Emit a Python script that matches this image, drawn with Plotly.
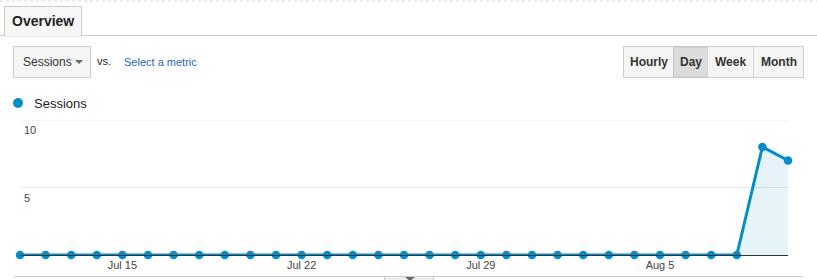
import datetime as dt
import plotly.graph_objects as go

# ---- data ----
start = dt.date(2014, 7, 11)
dates = [start + dt.timedelta(days=i) for i in range(31)]
sessions = [0] * 29 + [8, 7]
tick_dates = [dt.date(2014, 7, 15), dt.date(2014, 7, 22), dt.date(2014, 7, 29), dt.date(2014, 8, 5)]
tick_text = ["Jul 15", "Jul 22", "Jul 29", "Aug 5"]
y_ticks = [5, 10]
buttons = ["Hourly", "Day", "Week", "Month"]

W, H = 817, 280
BLUE = "#058dc7"
FONT = "Arial, Liberation Sans, sans-serif"

def px(x):
    return x / W

def py(y):
    return 1 - y / H

def label(text, x, y, size=12, color="#333", xanchor="center"):
    return dict(text=text, x=px(x), y=py(y), xref="paper", yref="paper", xanchor=xanchor,
                yanchor="middle", showarrow=False, font=dict(family=FONT, size=size, color=color))

fig = go.Figure()
fig.add_trace(go.Scatter(
    x=dates, y=sessions, mode="lines+markers",
    line=dict(color=BLUE, width=3),
    marker=dict(color=BLUE, size=8.5),
    fill="tozeroy", fillcolor="rgba(5,141,199,0.10)",
    cliponaxis=False, showlegend=False, hoverinfo="x+y",
))

shapes = []
annotations = []

# top dashed line
shapes.append(dict(type="line", xref="paper", yref="paper", x0=0, x1=1, y0=py(1), y1=py(1),
                   line=dict(color="#d8d8d8", width=1, dash="3px,3px")))
# tab baseline
shapes.append(dict(type="line", xref="paper", yref="paper", x0=0, x1=1, y0=py(35.5), y1=py(35.5),
                   line=dict(color="#cccccc", width=1)))
# tab
shapes.append(dict(type="rect", xref="paper", yref="paper", x0=px(4.5), x1=px(81.5), y0=py(36), y1=py(6.5),
                   fillcolor="#f7f7f7", line=dict(color="#cccccc", width=1)))
shapes.append(dict(type="line", xref="paper", yref="paper", x0=px(5.5), x1=px(80.5), y0=py(35.5), y1=py(35.5),
                   line=dict(color="#f7f7f7", width=1.5)))
annotations.append(label("<b>Overview</b>", 42.5, 21, size=14, color="#222"))

# dropdown
shapes.append(dict(type="rect", xref="paper", yref="paper", x0=px(13.5), x1=px(90.5), y0=py(77.5), y1=py(46.5),
                   fillcolor="#f5f5f5", line=dict(color="#cccccc", width=1)))
annotations.append(label("Sessions", 21, 62, size=12, color="#333", xanchor="left"))
shapes.append(dict(type="path", xref="paper", yref="paper",
                   path=f"M {px(75)} {py(60)} L {px(83)} {py(60)} L {px(79)} {py(64)} Z",
                   fillcolor="#666", line=dict(width=0)))
annotations.append(label("vs.", 95, 61, size=11, color="#222", xanchor="left"))
annotations.append(label("Select a metric", 122, 62, size=11, color="#1f66b4", xanchor="left"))

# buttons
edges = [623.5, 673.5, 707.5, 753.5, 803.5]
shapes.append(dict(type="rect", xref="paper", yref="paper", x0=px(edges[0]), x1=px(edges[-1]),
                   y0=py(77.5), y1=py(46.5), fillcolor="#f5f5f5", line=dict(color="#cccccc", width=1)))
for i, b in enumerate(buttons):
    x0, x1 = edges[i], edges[i + 1]
    if b == "Day":
        shapes.append(dict(type="rect", xref="paper", yref="paper", x0=px(x0), x1=px(x1),
                           y0=py(77), y1=py(47), fillcolor="#dcdcdc", line=dict(color="#c4c4c4", width=1)))
    elif i > 0:
        shapes.append(dict(type="line", xref="paper", yref="paper", x0=px(x0), x1=px(x0),
                           y0=py(77), y1=py(47), line=dict(color="#d4d4d4", width=1)))
    annotations.append(label(f"<b>{b}</b>", (x0 + x1) / 2, 62, size=12, color="#333"))

# legend
shapes.append(dict(type="circle", xref="paper", yref="paper", x0=px(13), x1=px(23), y0=py(108), y1=py(98),
                   fillcolor=BLUE, line=dict(width=0)))
annotations.append(label("Sessions", 32, 103, size=13, color="#222", xanchor="left"))

# y grid lines and tick labels inside plot
for v in y_ticks:
    shapes.append(dict(type="line", xref="paper", yref="y", x0=px(20), x1=px(788), y0=v, y1=v,
                       line=dict(color="#e8e8e8", width=1), layer="below"))
    annotations.append(dict(text=str(v), x=px(22), y=v, xref="paper", yref="y", xanchor="left", yanchor="top",
                            yshift=-2, showarrow=False, font=dict(family=FONT, size=11, color="#444")))

# bottom line and handle
shapes.append(dict(type="line", xref="paper", yref="paper", x0=px(14), x1=px(803), y0=py(276.5), y1=py(276.5),
                   line=dict(color="#cccccc", width=1)))
shapes.append(dict(type="rect", xref="paper", yref="paper", x0=px(384.5), x1=px(433.5), y0=py(281), y1=py(276.5),
                   fillcolor="#eeeeee", line=dict(color="#cccccc", width=1)))
shapes.append(dict(type="path", xref="paper", yref="paper",
                   path=f"M {px(405)} {py(277)} L {px(415)} {py(277)} L {px(410)} {py(281)} Z",
                   fillcolor="#666", line=dict(width=0)))

fig.update_layout(
    width=W, height=H, margin=dict(l=0, r=0, t=0, b=0),
    paper_bgcolor="white", plot_bgcolor="white",
    shapes=shapes, annotations=annotations,
    xaxis=dict(type="date", range=[dates[0], dates[-1]], domain=[px(20), px(788)],
               tickvals=tick_dates, ticktext=tick_text, showgrid=False, zeroline=False,
               showline=True, linecolor="#333", linewidth=1, ticks="",
               tickfont=dict(family=FONT, size=11, color="#444"), fixedrange=True),
    yaxis=dict(range=[0, 10], domain=[py(255), py(120)], tickvals=y_ticks, showticklabels=False,
               showgrid=False, zeroline=False, fixedrange=True),
    hovermode="closest",
)

fig.write_html("out.html")
